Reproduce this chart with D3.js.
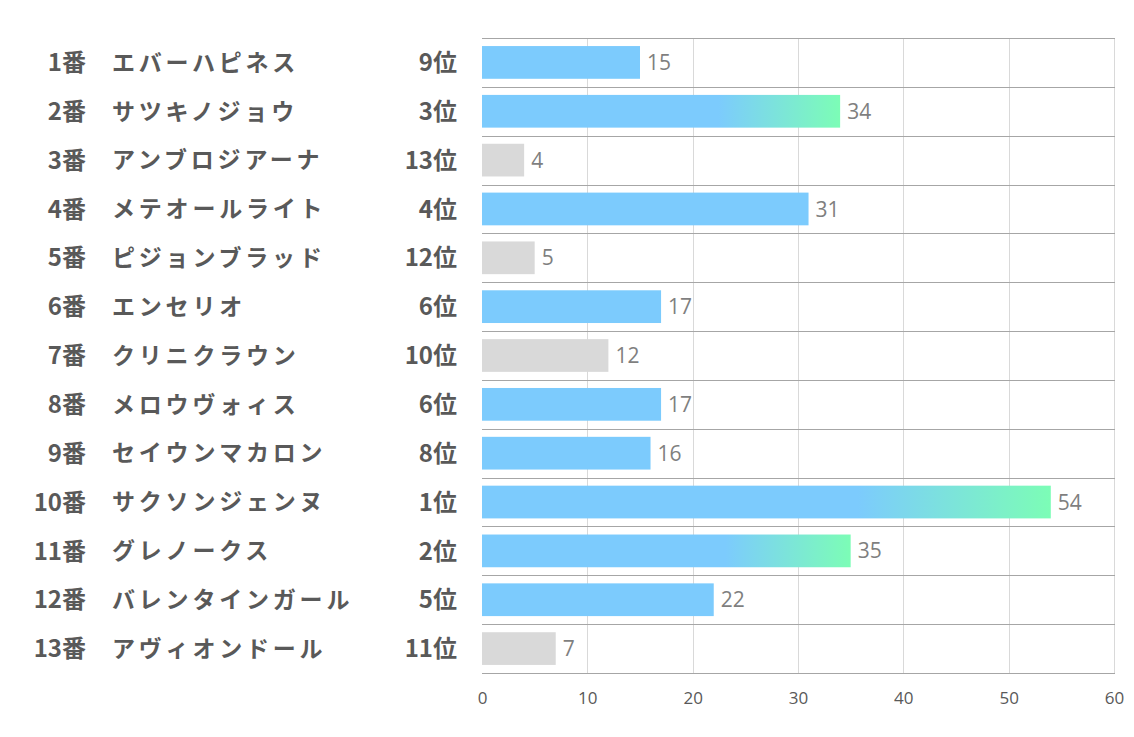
<!DOCTYPE html>
<html><head><meta charset="utf-8">
<script src="https://cdn.jsdelivr.net/npm/d3@7"></script>
<style>body{margin:0;background:#fff;} svg{display:block;}</style>
</head><body>
<svg id="c" width="1134" height="737"></svg>
<script>
const numbers = ["1番","2番","3番","4番","5番","6番","7番","8番","9番","10番","11番","12番","13番"];
const names = ["エバーハピネス","サツキノジョウ","アンブロジアーナ","メテオールライト","ピジョンブラッド","エンセリオ","クリニクラウン","メロウヴォィス","セイウンマカロン","サクソンジェンヌ","グレノークス","バレンタインガール","アヴィオンドール"];
const ranks = [9,3,13,4,12,6,10,6,8,1,2,5,11];
const values = [15,34,4,31,5,17,12,17,16,54,35,22,7];
const xTicks = [0,10,20,30,40,50,60];

(function(){
const svg = d3.select("#c");
const pL = 482, pR = 1114, pT = 38, pB = 673;
const x = d3.scaleLinear().domain([0,60]).range([pL,pR]);
const y = d3.scaleBand().domain(d3.range(values.length)).range([pT,pB]).paddingInner(0.33).paddingOuter(0.165);
const rowBand = d3.scaleBand().domain(d3.range(values.length)).range([pT,pB]);

const defs = svg.append("defs");
values.forEach((v,i)=>{
  const g = defs.append("linearGradient").attr("id","g"+i).attr("x1","0%").attr("x2","100%");
  g.append("stop").attr("offset","0%").attr("stop-color","#7ccbfd");
  g.append("stop").attr("offset","66%").attr("stop-color","#7ccbfd");
  g.append("stop").attr("offset","100%").attr("stop-color","#7cfdb6");
});

svg.append("g").selectAll("line").data(xTicks.slice(1)).join("line")
  .attr("x1",d=>Math.round(x(d))+0.5).attr("x2",d=>Math.round(x(d))+0.5).attr("y1",pT).attr("y2",pB)
  .attr("stroke","#d9d9d9").attr("stroke-width",1);
svg.append("g").selectAll("line").data(d3.range(values.length+1)).join("line")
  .attr("x1",pL).attr("x2",pR+1)
  .attr("y1",d=>Math.round(pT + d*rowBand.step())+0.5).attr("y2",d=>Math.round(pT + d*rowBand.step())+0.5)
  .attr("stroke","#a6a6a6").attr("stroke-width",1);

function fillFor(i){
  if (ranks[i] <= 3) return "url(#g"+i+")";
  if (ranks[i] <= 9) return "#7ccbfd";
  return "#d9d9d9";
}
svg.append("g").selectAll("rect").data(values).join("rect")
  .attr("x",x(0)).attr("y",(d,i)=>y(i)).attr("width",d=>x(d)-x(0)).attr("height",y.bandwidth())
  .attr("fill",(d,i)=>fillFor(i));

svg.append("g").selectAll("text").data(values).join("text")
  .attr("x",d=>x(d)+7).attr("y",(d,i)=>y(i)+y.bandwidth()/2)
  .attr("dy","0.36em").attr("fill","#7f7f7f")
  .style("font-family","'Open Sans','Noto Sans',sans-serif").style("font-size","21px")
  .text(d=>d);

const lab = svg.append("g").style("font-family","'Noto Sans CJK JP',sans-serif").style("font-weight","bold").attr("fill","#595959");
lab.selectAll(".num").data(numbers).join("text").attr("class","num")
  .attr("x",86).attr("y",(d,i)=>y(i)+y.bandwidth()/2).attr("dy","0.36em").attr("text-anchor","end")
  .style("font-size","24px").text(d=>d);
lab.selectAll(".nm").data(names).join("text").attr("class","nm")
  .attr("x",112).attr("y",(d,i)=>y(i)+y.bandwidth()/2).attr("dy","0.36em")
  .style("font-size","23px").style("letter-spacing","3.8px").text(d=>d);
lab.selectAll(".rk").data(ranks).join("text").attr("class","rk")
  .attr("x",457).attr("y",(d,i)=>y(i)+y.bandwidth()/2).attr("dy","0.36em").attr("text-anchor","end")
  .style("font-size","24px").text(d=>d+"位");

const ax = svg.append("g").attr("transform",`translate(0,${pB})`)
  .call(d3.axisBottom(x).tickValues(xTicks).tickSize(0).tickPadding(19));
ax.select(".domain").remove();
ax.selectAll("text").attr("fill","#595959").style("font-family","'Open Sans','Noto Sans',sans-serif").style("font-size","17px");
})();
</script>
</body></html>
